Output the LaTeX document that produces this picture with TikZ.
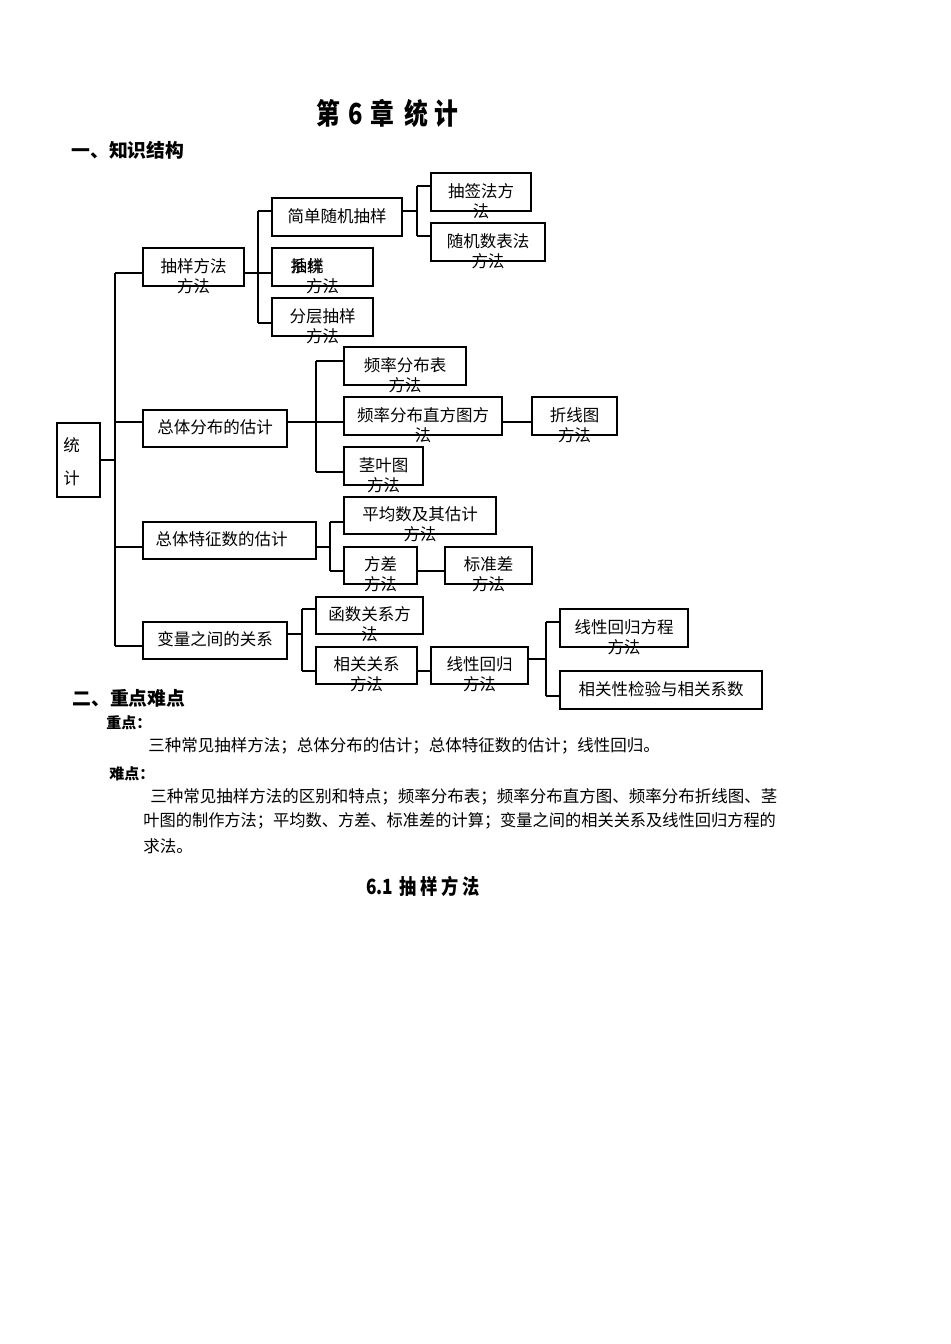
\documentclass[tikz,border=0pt]{standalone}
\usepackage{fontspec}
\setmainfont{Noto Sans CJK SC}
\newfontfamily\hei{Noto Sans CJK SC}[FakeStretch=0.82]
\usetikzlibrary{calc}
\newcommand\bx[8][0]{%
  \node[box, minimum width={(#5-#3)*0.5pt}, minimum height={(#6-#4)*0.5pt}] (#2) at ({(#3+#5)/2},{(#4+#6)/2}) {};
  \node[txt] (#2t) at ($(#2.center)+(#1,-1)$) {#7};
  \node[txt] (#2m) at ($(#2.center)+(0,19)$) {#8};
}
\begin{document}
\begin{tikzpicture}[x=0.5pt,y=-0.5pt,
  box/.style={draw, line width=0.6pt, inner sep=0, rectangle},
  txt/.style={inner sep=0, font=\fontsize{8.25}{10}\selectfont},
  ln/.style={line width=0.6pt},
  body/.style={inner sep=0, anchor=west, font=\fontsize{8.25}{10}\selectfont},
  sub/.style={inner sep=0, anchor=west, font=\bfseries\fontsize{7.5}{9}\selectfont},
  head/.style={inner sep=0, anchor=west, font=\bfseries\fontsize{9.4}{11}\selectfont}]
\useasboundingbox (0,0) rectangle (950,1344);

% headings
\node[inner sep=0, anchor=west, font=\hei\bfseries\fontsize{14.5}{16}\selectfont] (title) at (316,113.5) {第\hspace{4pt}6\hspace{4pt}章\hspace{5pt}统\hspace{3pt}计};
\node[head] (h1) at (71,150) {一、知识结构};

% boxes
\bx{T}{57}{423}{100}{497}{}{}
\node[txt] (T1) at (71.5,445) {统};
\node[txt] (T2) at (71.5,478) {计};

\bx{A}{143}{248}{244}{286}{抽样方法}{方法}
\bx{A1}{272}{198}{402}{236}{简单随机抽样}{}
\bx{A2}{272}{248}{373}{286}{}{方法}
\node[txt] (A2x) at (307,266) {系统};
\node[txt] (A2y) at (307,266) {抽样};
\bx{A3}{272}{298}{373}{336}{分层抽样}{方法}
\bx{A11}{431}{173}{531}{211}{抽签法方}{法}
\bx{A12}{431}{223}{545}{261}{随机数表法}{方法}

\bx{B}{143}{410}{287}{447}{总体分布的估计}{}
\bx{B1}{344}{347}{466}{385}{频率分布表}{方法}
\bx{B2}{344}{397}{502}{435}{频率分布直方图方}{法}
\bx{B3}{344}{447}{423}{485}{茎叶图}{方法}
\bx{B4}{532}{397}{617}{435}{折线图}{方法}

\bx[-8]{C}{143}{522}{316}{559}{总体特征数的估计}{}
\bx{C1}{344}{497}{496}{534}{平均数及其估计}{方法}
\bx{C2}{344}{547}{417}{584}{方差}{方法}
\bx{C3}{445}{547}{532}{584}{标准差}{方法}

\bx{D}{143}{622}{287}{659}{变量之间的关系}{}
\bx{D1}{316}{597}{423}{634}{函数关系方}{法}
\bx{D2}{316}{647}{417}{684}{相关关系}{方法}
\bx{D3}{431}{647}{528}{684}{线性回归}{方法}
\bx{D4}{560}{609}{688}{647}{线性回归方程}{方法}
\bx{D5}{560}{671}{762}{709}{相关性检验与相关系数}{}

% coordinates of spines
\coordinate (trm) at (115,460);
\coordinate (tr1) at (115,273);
\coordinate (tr2) at (115,422);
\coordinate (tr3) at (115,547);
\coordinate (tr4) at (115,646);
\coordinate (a0) at (258,273);
\coordinate (a1) at (258,211);
\coordinate (a3) at (258,323);
\coordinate (s0) at (417,211);
\coordinate (s1) at (417,186);
\coordinate (s2) at (417,236);
\coordinate (b1) at (316,361);
\coordinate (b3) at (316,472);
\coordinate (c0) at (330,547);
\coordinate (c1) at (330,522);
\coordinate (c2) at (330,571);
\coordinate (d0) at (302,634);
\coordinate (d1) at (302,609);
\coordinate (d2) at (302,671);
\coordinate (e0) at (546,659);
\coordinate (e1) at (546,622);
\coordinate (e2) at (546,696);

% connectors
\draw[ln] (T.east |- trm) -- (trm);
\draw[ln] (tr1) -- (tr4);
\draw[ln] (tr1) -- (A.west |- tr1);
\draw[ln] (tr2) -- (B.west |- tr2);
\draw[ln] (tr3) -- (C.west |- tr3);
\draw[ln] (tr4) -- (D.west |- tr4);

\draw[ln] (A.east |- a0) -- (A2.west |- a0);
\draw[ln] (a1) -- (a3);
\draw[ln] (a1) -- (A1.west |- a1);
\draw[ln] (a3) -- (A3.west |- a3);
\draw[ln] (A1.east |- s0) -- (s0);
\draw[ln] (s1) -- (s2);
\draw[ln] (s1) -- (A11.west |- s1);
\draw[ln] (s2) -- (A12.west |- s2);

\draw[ln] (B.east |- tr2) -- (B2.west |- tr2);
\draw[ln] (b1) -- (b3);
\draw[ln] (b1) -- (B1.west |- b1);
\draw[ln] (b3) -- (B3.west |- b3);
\draw[ln] (B2.east |- tr2) -- (B4.west |- tr2);

\draw[ln] (C.east |- c0) -- (c0);
\draw[ln] (c1) -- (c2);
\draw[ln] (c1) -- (C1.west |- c1);
\draw[ln] (c2) -- (C2.west |- c2);
\draw[ln] (C2.east |- c2) -- (C3.west |- c2);

\draw[ln] (D.east |- d0) -- (d0);
\draw[ln] (d1) -- (d2);
\draw[ln] (d1) -- (D1.west |- d1);
\draw[ln] (d2) -- (D2.west |- d2);
\draw[ln] (D2.east |- d2) -- (D3.west |- d2);
\draw[ln] (D3.east |- e0) -- (e0);
\draw[ln] (e1) -- (e2);
\draw[ln] (e1) -- (D4.west |- e1);
\draw[ln] (e2) -- (D5.west |- e2);

% text section
\node[head] (h2) at (72,698) {二、重点难点};
\node[sub] (k1) at (106,723) {重点：};
\node[body] (k1a) at (148,746) {三种常见抽样方法；总体分布的估计；总体特征数的估计；线性回归。};
\node[sub] (k2) at (109,774) {难点：};
\node[body] (k2a) at (150,797) {三种常见抽样方法的区别和特点；频率分布表；频率分布直方图、频率分布折线图、茎};
\node[body] (k2b) at (143,821) {\scalebox{0.983}[1]{叶图的制作方法；平均数、方差、标准差的计算；变量之间的相关关系及线性回归方程的}};
\node[body] (k2c) at (143,846) {求法。};
\node[inner sep=0, font=\hei\bfseries\fontsize{10.5}{12}\selectfont] (h3) at (423,886) {6.1\hspace{3pt}抽\hspace{2pt}样\hspace{2pt}方\hspace{2pt}法};
\end{tikzpicture}
\end{document}
